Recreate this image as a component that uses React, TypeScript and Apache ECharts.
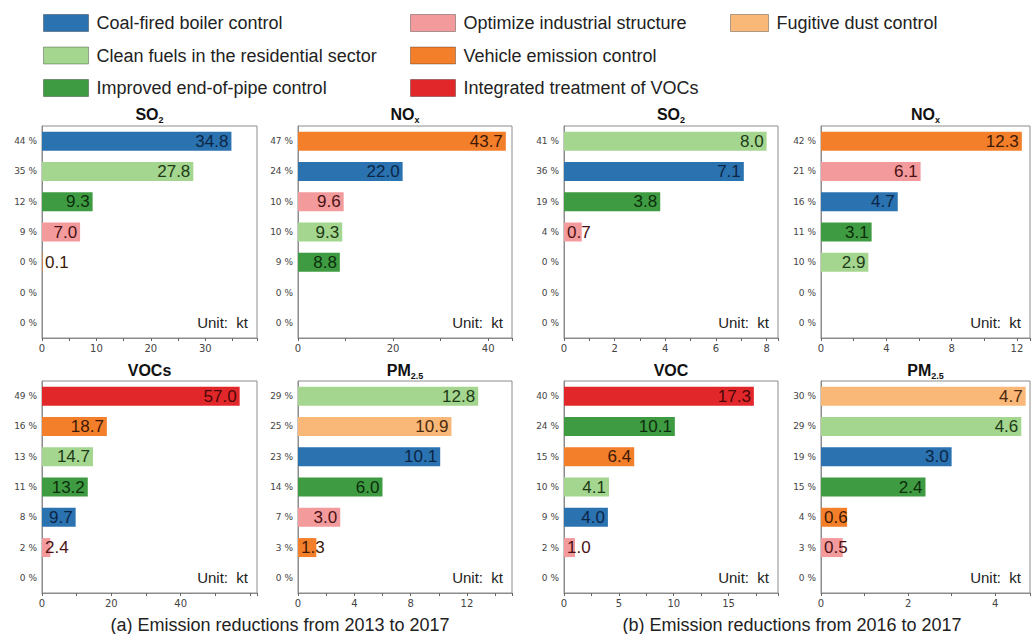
import React, { useEffect, useRef } from "react";
import * as echarts from "echarts";

// Control measures (legend order) and their colours
const measureKeys = ["coal", "clean", "pipe", "indus", "vehicle", "voc", "dust"];
const measureNames = [
  "Coal-fired boiler control",
  "Clean fuels in the residential sector",
  "Improved end-of-pipe control",
  "Optimize industrial structure",
  "Vehicle emission control",
  "Integrated treatment of VOCs",
  "Fugitive dust control",
];
const barColors = ["#2b72b0", "#a4d690", "#3e9b41", "#f29a9c", "#f47f2b", "#e2272b", "#f9b778"];
const labelColors = ["#0c2646", "#1d3a16", "#0c2e0c", "#4a1214", "#3d1a06", "#4a0808", "#4a2a0c"];

// (a) 2013–2017, SO2
const aSO2Share = ["44 %", "35 %", "12 %", "9 %", "0 %", "0 %", "0 %"];
const aSO2Measure = ["coal", "clean", "pipe", "indus", "vehicle"];
const aSO2Value = [34.8, 27.8, 9.3, 7.0, 0.1];
const aSO2Ticks = [0, 10, 20, 30];

// (a) 2013–2017, NOx
const aNOxShare = ["47 %", "24 %", "10 %", "10 %", "9 %", "0 %", "0 %"];
const aNOxMeasure = ["vehicle", "coal", "indus", "clean", "pipe"];
const aNOxValue = [43.7, 22.0, 9.6, 9.3, 8.8];
const aNOxTicks = [0, 20, 40];

// (b) 2016–2017, SO2
const bSO2Share = ["41 %", "36 %", "19 %", "4 %", "0 %", "0 %", "0 %"];
const bSO2Measure = ["clean", "coal", "pipe", "indus"];
const bSO2Value = [8.0, 7.1, 3.8, 0.7];
const bSO2Ticks = [0, 2, 4, 6, 8];

// (b) 2016–2017, NOx
const bNOxShare = ["42 %", "21 %", "16 %", "11 %", "10 %", "0 %", "0 %"];
const bNOxMeasure = ["vehicle", "indus", "coal", "pipe", "clean"];
const bNOxValue = [12.3, 6.1, 4.7, 3.1, 2.9];
const bNOxTicks = [0, 4, 8, 12];

// (a) 2013–2017, VOCs
const aVOCShare = ["49 %", "16 %", "13 %", "11 %", "8 %", "2 %", "0 %"];
const aVOCMeasure = ["voc", "vehicle", "clean", "pipe", "coal", "indus"];
const aVOCValue = [57.0, 18.7, 14.7, 13.2, 9.7, 2.4];
const aVOCTicks = [0, 20, 40];

// (a) 2013–2017, PM2.5
const aPMShare = ["29 %", "25 %", "23 %", "14 %", "7 %", "3 %", "0 %"];
const aPMMeasure = ["clean", "dust", "coal", "pipe", "indus", "vehicle"];
const aPMValue = [12.8, 10.9, 10.1, 6.0, 3.0, 1.3];
const aPMTicks = [0, 4, 8, 12];

// (b) 2016–2017, VOC
const bVOCShare = ["40 %", "24 %", "15 %", "10 %", "9 %", "2 %", "0 %"];
const bVOCMeasure = ["voc", "pipe", "vehicle", "clean", "coal", "indus"];
const bVOCValue = [17.3, 10.1, 6.4, 4.1, 4.0, 1.0];
const bVOCTicks = [0, 5, 10, 15];

// (b) 2016–2017, PM2.5
const bPMShare = ["30 %", "29 %", "19 %", "15 %", "4 %", "3 %", "0 %"];
const bPMMeasure = ["dust", "clean", "coal", "pipe", "vehicle", "indus"];
const bPMValue = [4.7, 4.6, 3.0, 2.4, 0.6, 0.5];
const bPMTicks = [0, 2, 4];

// Panel titles (rich text: main part + subscript)
const panelTitles = [
  ["SO", "2"], ["NO", "x"], ["SO", "2"], ["NO", "x"],
  ["VOCs", ""], ["PM", "2.5"], ["VOC", ""], ["PM", "2.5"],
];
const axisMax = [39.5, 45, 8.45, 12.8, 62, 15.2, 19.5, 4.8];

const panelData = [
  { share: aSO2Share, measure: aSO2Measure, value: aSO2Value, ticks: aSO2Ticks },
  { share: aNOxShare, measure: aNOxMeasure, value: aNOxValue, ticks: aNOxTicks },
  { share: bSO2Share, measure: bSO2Measure, value: bSO2Value, ticks: bSO2Ticks },
  { share: bNOxShare, measure: bNOxMeasure, value: bNOxValue, ticks: bNOxTicks },
  { share: aVOCShare, measure: aVOCMeasure, value: aVOCValue, ticks: aVOCTicks },
  { share: aPMShare, measure: aPMMeasure, value: aPMValue, ticks: aPMTicks },
  { share: bVOCShare, measure: bVOCMeasure, value: bVOCValue, ticks: bVOCTicks },
  { share: bPMShare, measure: bPMMeasure, value: bPMValue, ticks: bPMTicks },
];

// Layout of the 2x4 panel grid
const colLeft = [42, 298, 564, 821];
const colWidth = [215, 214, 214, 209];
const rowTop = [126, 381];
const rowHeight = 212;

const FONT = "'Liberation Sans', Arial, sans-serif";
const TICK_FONT = "'DejaVu Sans', sans-serif";

function buildOption() {
  const grid: any[] = [];
  const xAxis: any[] = [];
  const yAxis: any[] = [];
  const series: any[] = [];
  const graphic: any[] = [];

  panelData.forEach((p, i) => {
    const col = i % 4;
    const row = Math.floor(i / 4);
    const left = colLeft[col];
    const width = colWidth[col];
    const top = rowTop[row];
    const step = p.ticks[1] - p.ticks[0];
    grid.push({
      left, top, width, height: rowHeight,
      show: true, borderColor: "#8c8c8c", borderWidth: 1, containLabel: false,
    });
    xAxis.push({
      type: "value", gridIndex: i, min: 0, max: axisMax[i], interval: step,
      axisLine: { show: true, lineStyle: { color: "#8c8c8c", width: 1 } },
      axisTick: { show: true, length: 3, lineStyle: { color: "#666" } },
      minorTick: { show: true, splitNumber: 2, length: 3, lineStyle: { color: "#666" } },
      splitLine: { show: false },
      axisLabel: {
        showMaxLabel: false, fontSize: 10, color: "#444", fontFamily: TICK_FONT, margin: 5,
        formatter: (v: number) => (p.ticks.indexOf(v) >= 0 ? String(v) : ""),
      },
    });
    yAxis.push({
      type: "category", gridIndex: i, inverse: true,
      data: p.share.map((_, r) => String(r)),
      axisLine: { show: true, lineStyle: { color: "#8c8c8c", width: 1 } },
      axisTick: { show: false },
      axisLabel: {
        fontSize: 9, color: "#444", fontFamily: TICK_FONT, margin: 5,
        formatter: (_v: string, idx: number) => p.share[idx],
      },
    });

    const plotPerUnit = width / axisMax[i];
    p.measure.forEach((key, r) => {
      const m = measureKeys.indexOf(key);
      const v = p.value[r];
      const barLen = v * plotPerUnit;
      const data = p.share.map((_, rr) =>
        rr === r
          ? { value: v, label: { position: barLen > 30 ? "insideRight" : "insideLeft" } }
          : "-"
      );
      series.push({
        type: "bar",
        name: measureNames[m],
        xAxisIndex: i,
        yAxisIndex: i,
        stack: "panel" + i,
        barWidth: 19,
        itemStyle: { color: barColors[m] },
        label: {
          show: true,
          distance: 3,
          fontSize: 17,
          fontFamily: FONT,
          color: labelColors[m],
          formatter: (prm: any) => Number(prm.value).toFixed(1),
        },
        data,
      });
    });

    // panel title
    const [main, sub] = panelTitles[i];
    graphic.push({
      type: "text",
      x: left + width / 2,
      y: row === 0 ? 114 : 370,
      style: {
        text: sub ? `{m|${main}}{s|${sub}}` : `{m|${main}}`,
        align: "center",
        verticalAlign: "middle",
        rich: {
          m: { fontSize: 16, fontWeight: "bold", fontFamily: FONT, fill: "#111", lineHeight: 21 },
          s: { fontSize: 9, fontWeight: "bold", fontFamily: FONT, fill: "#111", lineHeight: 9, verticalAlign: "bottom" },
        },
      },
    });
    // unit note in the lower right of each panel
    graphic.push({
      type: "text",
      x: left + width - 9,
      y: top + rowHeight * (6.5 / 7),
      style: {
        text: "Unit:  kt",
        align: "right",
        verticalAlign: "middle",
        fontSize: 15,
        fontFamily: FONT,
        fill: "#222",
      },
    });
  });

  graphic.push({
    type: "text", x: 280, y: 625,
    style: { text: "(a) Emission reductions from 2013 to 2017", align: "center", verticalAlign: "middle", fontSize: 18, fontFamily: FONT, fill: "#222" },
  });
  graphic.push({
    type: "text", x: 792, y: 625,
    style: { text: "(b) Emission reductions from 2016 to 2017", align: "center", verticalAlign: "middle", fontSize: 18, fontFamily: FONT, fill: "#222" },
  });

  const legendBase = {
    orient: "vertical",
    top: 14,
    padding: 0,
    icon: "rect",
    itemHeight: 17,
    itemGap: 14.5,
    selectedMode: false,
    itemStyle: { borderColor: "rgba(0,0,0,0.3)", borderWidth: 1 },
    textStyle: { fontSize: 18, fontFamily: FONT, color: "#222", lineHeight: 17, padding: [0, 0, 0, 3] },
  };

  return {
    animation: false,
    backgroundColor: "#fff",
    textStyle: { fontFamily: FONT },
    legend: [
      { ...legendBase, left: 43, itemWidth: 45, data: measureNames.slice(0, 3) },
      { ...legendBase, left: 410, itemWidth: 45, data: measureNames.slice(3, 6) },
      { ...legendBase, left: 730, itemWidth: 38, data: measureNames.slice(6, 7) },
    ],
    grid,
    xAxis,
    yAxis,
    series,
    graphic,
  };
}

export default function App() {
  const ref = useRef<HTMLDivElement>(null);
  useEffect(() => {
    if (!ref.current) return;
    const chart = echarts.init(ref.current, undefined, { renderer: "svg" });
    chart.setOption(buildOption() as any);
    return () => chart.dispose();
  }, []);
  return (
    <div
      ref={ref}
      style={{ position: "absolute", left: 0, top: 0, width: 1031, height: 634 }}
    />
  );
}
